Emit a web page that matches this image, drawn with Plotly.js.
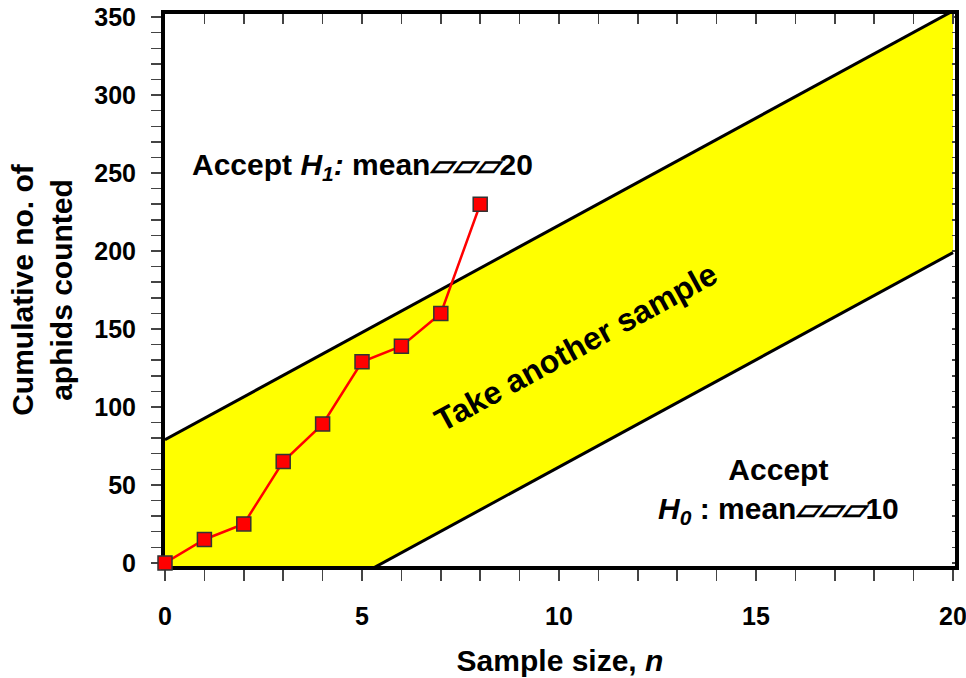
<!DOCTYPE html>
<html>
<head>
<meta charset="utf-8">
<script src="https://cdn.plot.ly/plotly-3.0.1.min.js"></script>
<style>html,body{margin:0;padding:0;background:#fff;}#chart{width:966px;height:678px;}</style>
</head>
<body>
<div id="chart"></div>
<script>
// Observed data
const sampleSize = [0, 1, 2, 3, 4, 5, 6, 7, 8];
const cumulativeCount = [0, 15, 25, 65, 89, 129, 139, 160, 230];

// Decision boundary lines (at n = 0 and n = 20)
const boundaryN = [0, 20];
const upperLimit = [79, 354];
const lowerLimit = [-76, 199];

// Tick labels
const xTickVals = [0, 5, 10, 15, 20];
const xTickText = ['0', '5', '10', '15', '20'];
const yTickVals = [0, 50, 100, 150, 200, 250, 300, 350];
const yTickText = ['0', '50', '100', '150', '200', '250', '300', '350'];

const FAM = '"Liberation Sans", Arial, Helvetica, sans-serif';
const xRange = [0, 20.05];
const yRange = [-2, 352];
const TICKC = '#444';

const traces = [
  {x: boundaryN, y: lowerLimit, mode: 'lines', line: {color: '#000', width: 3}, hoverinfo: 'skip', showlegend: false},
  {x: boundaryN, y: upperLimit, mode: 'lines', line: {color: '#000', width: 3}, fill: 'tonexty', fillcolor: '#ffff00', hoverinfo: 'skip', showlegend: false},
  {x: sampleSize, y: cumulativeCount, mode: 'lines+markers', cliponaxis: false,
   line: {color: '#ff0000', width: 2.5},
   marker: {symbol: 'square', size: 14, color: '#ff0000', line: {color: '#333', width: 1.5}},
   showlegend: false},
  // helper so the secondary (tick-only) axes are drawn
  {x: [], y: [], xaxis: 'x2', yaxis: 'y2', mode: 'markers', showlegend: false, hoverinfo: 'skip'}
];

const titleFont = {family: FAM, size: 30, weight: 'bold', color: '#000'};
const tickFont = {family: FAM, size: 25, weight: 'bold', color: '#000'};

const layout = {
  width: 966, height: 678,
  margin: {l: 165, r: 11, t: 14, b: 112},
  paper_bgcolor: '#fff', plot_bgcolor: '#fff',
  showlegend: false,
  font: {family: FAM, color: '#000'},
  xaxis: {
    range: xRange, showgrid: false, zeroline: false, layer: 'below traces',
    showline: true, linecolor: '#000', linewidth: 4, mirror: true,
    tickmode: 'array', tickvals: xTickVals, ticktext: xTickText,
    ticks: 'outside', ticklen: 11, tickwidth: 1.5, tickcolor: TICKC,
    minor: {tickmode: 'linear', tick0: 0, dtick: 1, ticks: 'outside', ticklen: 11, tickwidth: 1.5, tickcolor: TICKC, showgrid: false},
    ticklabelstandoff: 14, ticklabeloverflow: 'allow',
    tickfont: tickFont,
    title: {text: 'Sample size, <i>n</i>', standoff: 22, font: titleFont}
  },
  yaxis: {
    range: yRange, showgrid: false, zeroline: false, layer: 'below traces',
    showline: true, linecolor: '#000', linewidth: 4, mirror: true,
    tickmode: 'array', tickvals: yTickVals, ticktext: yTickText,
    ticks: 'outside', ticklen: 10, tickwidth: 1.5, tickcolor: TICKC,
    minor: {tickmode: 'linear', tick0: 0, dtick: 10, ticks: 'outside', ticklen: 10, tickwidth: 1.5, tickcolor: TICKC, showgrid: false},
    ticklabelstandoff: 10, ticklabeloverflow: 'allow',
    tickfont: tickFont,
    title: {text: 'Cumulative no. of<br>aphids counted', standoff: 14, font: titleFont}
  },
  xaxis2: {
    overlaying: 'x', anchor: 'y', side: 'top', range: xRange,
    showgrid: false, zeroline: false, showline: false, showticklabels: false,
    tickmode: 'linear', tick0: 0, dtick: 1,
    ticks: 'inside', ticklen: 10, tickwidth: 1.5, tickcolor: TICKC
  },
  yaxis2: {
    overlaying: 'y', anchor: 'x', side: 'right', range: yRange,
    showgrid: false, zeroline: false, showline: false, showticklabels: false,
    tickmode: 'linear', tick0: 0, dtick: 10,
    ticks: 'inside', ticklen: 3, tickwidth: 1.5, tickcolor: TICKC
  },
  annotations: [
    {x: 5.0, y: 254, xref: 'x', yref: 'y', showarrow: false, xanchor: 'center', yanchor: 'middle',
     text: 'Accept <i>H<sub>1</sub>:</i> mean<i>▱▱▱</i>20',
     font: titleFont},
    {x: 15.56, y: 46, xref: 'x', yref: 'y', showarrow: false, xanchor: 'center', yanchor: 'middle',
     text: 'Accept<br><i>H<sub>0</sub></i> : mean<i>▱▱▱</i>10',
     font: titleFont},
    {x: 10.43, y: 138.5, xref: 'x', yref: 'y', showarrow: false, xanchor: 'center', yanchor: 'middle',
     textangle: -28.6, text: 'Take another sample',
     font: {family: FAM, size: 32, weight: 'bold', color: '#000'}}
  ]
};

Plotly.newPlot('chart', traces, layout, {displayModeBar: false, staticPlot: true});
</script>
</body>
</html>
